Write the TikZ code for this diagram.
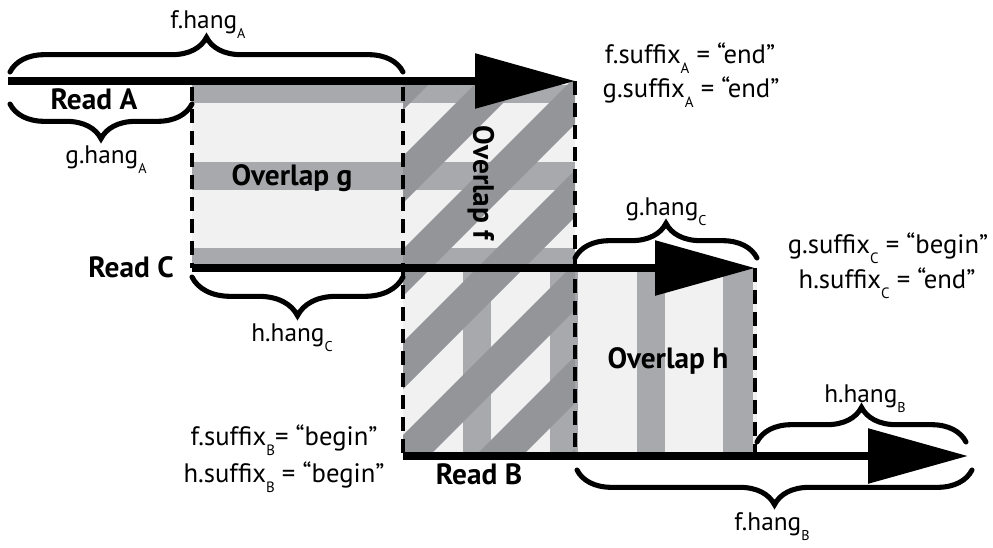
\documentclass[tikz,border=0pt]{standalone}
\usepackage{fontspec}
\setmainfont{PT Sans}
\usetikzlibrary{arrows.meta,decorations.pathreplacing}
\definecolor{paleband}{HTML}{F1F1F2}
\definecolor{stripe}{HTML}{A7A9AC}
\definecolor{diagband}{HTML}{939598}
% lowered, smaller read letter after a label
\newcommand\rdsub[1]{\raisebox{-0.4em}{\fontsize{\dimexpr0.56em\relax}{\dimexpr0.56em\relax}\selectfont #1}}
\begin{document}
\begin{tikzpicture}[x=0.75pt,y=-0.75pt,
  readline/.style={line width=6pt,-{Triangle[length=75pt,width=40pt]}},
  overlapedge/.style={line width=2.3pt,dash pattern=on 10.5pt off 6pt},
  hangbrace/.style={decorate,decoration={brace,amplitude=#1},line width=3.8pt,line cap=round},
  hangbrace/.default=26pt,
  hanglabel/.style={font=\fontsize{19}{22}\selectfont,inner sep=0pt,anchor=base},
  suffixlabel/.style={font=\fontsize{20}{24}\selectfont,inner sep=0pt,anchor=base},
  readlabel/.style={font=\bfseries\fontsize{22}{26}\selectfont,inner sep=0pt,anchor=base},
]
\useasboundingbox (0,0) rectangle (993,547);

% corners of the overlap regions
\coordinate (gTL) at (192,87);
\coordinate (gBL) at (192,268);
\coordinate (fTL) at (403,87);
\coordinate (fBL) at (403,456);
\coordinate (fTR) at (575,81);
\coordinate (fBR) at (575,456);
\coordinate (hTR) at (755,268);
\coordinate (hBR) at (755,456);

% pale grounds
\fill[paleband] (192,81) rectangle (575,268);
\fill[paleband] (403,268) rectangle (757,455);
% horizontal bands of overlap g, running on through f
\foreach \ya/\yb in {85/103, 162/190, 248/268}
  \fill[stripe] (192,\ya) rectangle (575,\yb);
% vertical bands of overlap h, running on through f
\foreach \xa/\xb in {463/491, 550/578, 637/665, 723/753}
  \fill[stripe] (\xa,268) rectangle (\xb,455);
% diagonal bands of overlap f
\begin{scope}
  \clip (403,81) rectangle (575,455);
  \foreach \c in {466,559,...,1024}
    \fill[diagband] (\c,0) -- (\c+47,0) -- (\c+47-600,600) -- (\c-600,600) -- cycle;
\end{scope}

% dashed borders
\draw[overlapedge] (gTL) -- (gBL);
\draw[overlapedge] (fTL) -- (fBL);
\draw[overlapedge] (fTR) -- (fBR);
\draw[overlapedge] (hTR) -- (hBR);

% the three reads
\coordinate (aS) at (8,81);   \coordinate (aE) at (575,81);
\coordinate (cS) at (192,268); \coordinate (cE) at (755,268);
\coordinate (bS) at (403,456); \coordinate (bE) at (968,456);
\draw[readline] (aS) -- (aE);
\draw[readline] (cS) -- (cE);
\draw[readline] (bS) -- (bE);

% hang braces
\coordinate (fhA1) at (10,72);   \coordinate (fhA2) at (403,72);
\coordinate (ghA1) at (192,104); \coordinate (ghA2) at (10,104);
\coordinate (hhC1) at (403,277); \coordinate (hhC2) at (192,277);
\coordinate (ghC1) at (575,258); \coordinate (ghC2) at (757,258);
\coordinate (hhB1) at (757,442); \coordinate (hhB2) at (966,442);
\coordinate (fhB1) at (972,470); \coordinate (fhB2) at (577,470);
\draw[hangbrace] (fhA1) -- (fhA2);
\draw[hangbrace] (ghA1) -- (ghA2);
\draw[hangbrace=29pt] (hhC1) -- (hhC2);
\draw[hangbrace] (ghC1) -- (ghC2);
\draw[hangbrace] (hhB1) -- (hhB2);
\draw[hangbrace] (fhB1) -- (fhB2);

% hang labels
\node[hanglabel] (fhangA) at (208,28) {f.hang\rdsub{A}};
\node[hanglabel] (ghangA) at (106,163) {g.hang\rdsub{A}};
\node[hanglabel] (hhangC) at (292,341) {h.hang\rdsub{C}};
\node[hanglabel] (ghangC) at (666,215) {g.hang\rdsub{C}};
\node[hanglabel] (hhangB) at (865,402) {h.hang\rdsub{B}};
\node[hanglabel] (fhangB) at (772,530) {f.hang\rdsub{B}};

% suffix labels
\node[suffixlabel] (fsufA) at (690,63) {f.suffix\rdsub{A} = “end”};
\node[suffixlabel] (gsufA) at (691,97) {g.suffix\rdsub{A} = “end”};
\node[suffixlabel] (gsufC) at (888,253) {g.suffix\rdsub{C} = “begin”};
\node[suffixlabel] (hsufC) at (887,288) {h.suffix\rdsub{C} = “end”};
\node[suffixlabel] (fsufB) at (284,445) {f.suffix\rdsub{B}= “begin”};
\node[suffixlabel] (hsufB) at (284,482) {h.suffix\rdsub{B} = “begin”};

% read and overlap names
\node[readlabel] (readA) at (94,109) {Read A};
\node[readlabel] (readC) at (131,277) {Read C};
\node[readlabel] (readB) at (479,484) {Read B};
\node[readlabel] (ovg) at (292,185) {Overlap g};
\node[readlabel] (ovh) at (668,368) {Overlap h};
\node[readlabel,anchor=center,rotate=-90] (ovf) at (481,183) {Overlap f};
\end{tikzpicture}
\end{document}
